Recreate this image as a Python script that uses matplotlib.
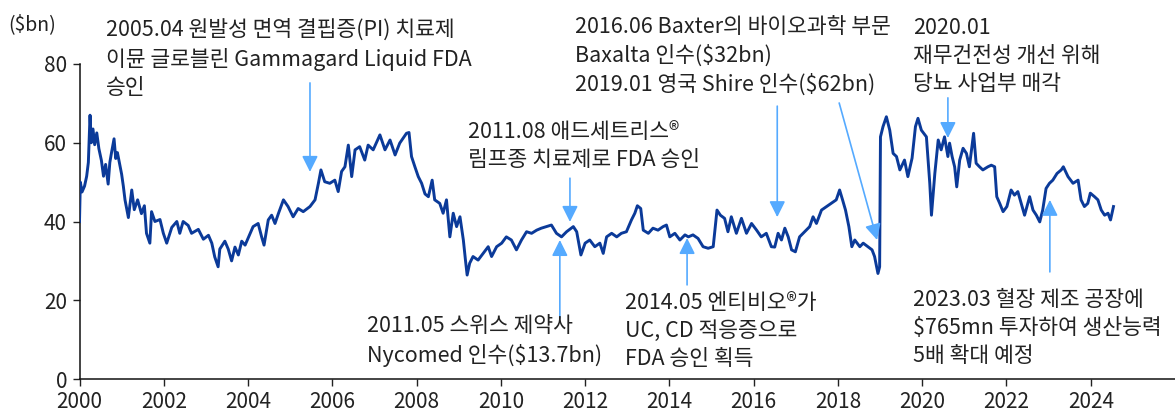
import matplotlib.pyplot as plt

plt.rcParams['font.family'] = ['Noto Sans CJK KR', 'DejaVu Sans']

# market cap ($bn)
years = [
    2000.00, 2000.02, 2000.06, 2000.12, 2000.17, 2000.21, 2000.25, 2000.28, 2000.32, 2000.36,
    2000.41, 2000.46, 2000.52, 2000.57, 2000.62, 2000.68, 2000.72, 2000.76, 2000.82, 2000.86,
    2000.90, 2001.00, 2001.04, 2001.08, 2001.16, 2001.24, 2001.30, 2001.38, 2001.47, 2001.54,
    2001.59, 2001.67, 2001.71, 2001.79, 2001.91, 2001.99, 2002.07, 2002.19, 2002.31, 2002.38,
    2002.46, 2002.58, 2002.66, 2002.82, 2002.94, 2003.06, 2003.14, 2003.21, 2003.29, 2003.33,
    2003.45, 2003.53, 2003.61, 2003.69, 2003.77, 2003.85, 2003.93, 2004.01, 2004.12, 2004.24,
    2004.32, 2004.38, 2004.48, 2004.56, 2004.64, 2004.72, 2004.84, 2004.95, 2005.07, 2005.19,
    2005.31, 2005.47, 2005.59, 2005.67, 2005.73, 2005.82, 2005.94, 2006.06, 2006.14, 2006.22,
    2006.30, 2006.38, 2006.46, 2006.54, 2006.65, 2006.77, 2006.85, 2006.97, 2007.13, 2007.25,
    2007.37, 2007.49, 2007.60, 2007.76, 2007.82, 2007.88, 2007.96, 2008.04, 2008.12, 2008.20,
    2008.28, 2008.37, 2008.43, 2008.55, 2008.63, 2008.71, 2008.79, 2008.87, 2008.95, 2009.03,
    2009.11, 2009.16, 2009.20, 2009.26, 2009.34, 2009.46, 2009.58, 2009.70, 2009.78, 2009.90,
    2010.02, 2010.13, 2010.25, 2010.37, 2010.49, 2010.61, 2010.73, 2010.85, 2010.96, 2011.08,
    2011.20, 2011.32, 2011.44, 2011.56, 2011.72, 2011.80, 2011.90, 2012.00, 2012.11, 2012.23,
    2012.35, 2012.43, 2012.51, 2012.63, 2012.75, 2012.86, 2012.98, 2013.10, 2013.18, 2013.24,
    2013.32, 2013.38, 2013.50, 2013.61, 2013.73, 2013.85, 2013.93, 2014.01, 2014.13, 2014.25,
    2014.37, 2014.45, 2014.56, 2014.68, 2014.80, 2014.92, 2015.04, 2015.13, 2015.21, 2015.31,
    2015.39, 2015.47, 2015.59, 2015.71, 2015.83, 2015.95, 2016.07, 2016.18, 2016.30, 2016.42,
    2016.50, 2016.58, 2016.66, 2016.74, 2016.82, 2016.90, 2016.99, 2017.09, 2017.21, 2017.33,
    2017.41, 2017.49, 2017.61, 2017.73, 2017.84, 2017.96, 2018.04, 2018.11, 2018.18, 2018.26,
    2018.33, 2018.40, 2018.52, 2018.60, 2018.71, 2018.81, 2018.87, 2018.95, 2018.99, 2019.01,
    2019.07, 2019.15, 2019.23, 2019.31, 2019.39, 2019.47, 2019.58, 2019.66, 2019.76, 2019.84,
    2019.90, 2019.98, 2020.10, 2020.18, 2020.22, 2020.30, 2020.38, 2020.45, 2020.53, 2020.61,
    2020.65, 2020.71, 2020.77, 2020.82, 2020.89, 2020.97, 2021.05, 2021.12, 2021.16, 2021.22,
    2021.28, 2021.36, 2021.44, 2021.56, 2021.64, 2021.72, 2021.77, 2021.84, 2021.92, 2022.01,
    2022.11, 2022.19, 2022.27, 2022.35, 2022.43, 2022.55, 2022.63, 2022.71, 2022.79, 2022.86,
    2022.94, 2023.02, 2023.10, 2023.20, 2023.30, 2023.35, 2023.46, 2023.58, 2023.70, 2023.77,
    2023.85, 2023.93, 2023.99, 2024.09, 2024.17, 2024.25, 2024.33, 2024.41, 2024.47, 2024.54,
]
cap = [
    40.0, 50.0, 47.5, 49.0, 51.5, 55.0, 67.0, 60.0, 63.5, 59.5,
    62.5, 58.5, 55.5, 51.5, 54.5, 49.5, 55.0, 57.5, 61.0, 56.0,
    57.5, 52.0, 49.0, 45.5, 41.0, 48.0, 43.0, 45.5, 42.0, 44.0,
    37.0, 34.5, 42.5, 40.0, 40.5, 37.0, 34.5, 38.5, 40.0, 37.0,
    40.0, 39.0, 37.0, 38.0, 35.5, 36.5, 34.5, 31.0, 28.5, 33.0,
    35.0, 33.0, 30.0, 33.5, 31.5, 35.0, 34.0, 36.0, 38.7, 39.5,
    36.2, 34.0, 40.4, 41.6, 39.5, 42.0, 45.5, 43.8, 41.2, 43.3,
    42.5, 43.8, 45.5, 49.7, 53.1, 50.1, 49.7, 50.5, 47.6, 52.7,
    53.9, 59.4, 51.4, 58.2, 59.0, 55.6, 59.4, 58.2, 62.0, 58.2,
    60.7, 56.9, 59.9, 62.4, 62.6, 56.5, 53.9, 51.4, 49.7, 47.0,
    46.3, 50.5, 45.5, 44.6, 42.1, 45.5, 36.1, 42.1, 38.7, 41.2,
    35.3, 30.2, 26.4, 29.4, 31.1, 30.2, 31.9, 33.6, 31.1, 33.6,
    34.5, 36.1, 35.3, 32.8, 35.3, 37.4, 37.0, 37.8, 38.3, 38.7,
    39.1, 37.0, 36.1, 37.4, 38.7, 37.4, 31.5, 34.5, 35.3, 33.6,
    34.5, 31.9, 36.1, 37.0, 36.1, 37.0, 37.4, 40.4, 42.1, 44.0,
    43.3, 37.8, 37.0, 38.3, 37.8, 38.7, 39.1, 36.1, 37.0, 35.3,
    36.6, 36.1, 36.6, 35.7, 33.6, 33.2, 33.6, 42.9, 41.6, 40.8,
    37.4, 41.2, 37.0, 40.8, 37.0, 39.5, 37.8, 36.1, 37.0, 33.6,
    33.5, 37.0, 35.3, 38.3, 36.1, 32.8, 32.3, 36.1, 37.4, 38.7,
    41.2, 39.5, 42.9, 43.8, 44.6, 45.5, 48.0, 45.5, 42.9, 38.7,
    33.6, 35.3, 33.6, 34.5, 33.6, 32.8, 31.1, 26.8, 28.5, 61.5,
    64.1, 66.6, 63.2, 57.3, 56.5, 53.1, 55.6, 51.4, 56.1, 64.1,
    66.2, 63.2, 61.5, 49.7, 41.6, 52.2, 60.7, 58.2, 61.5, 56.5,
    59.9, 56.5, 53.9, 48.8, 55.6, 58.6, 57.3, 53.9, 57.3, 62.4,
    54.8, 53.9, 53.1, 53.9, 54.3, 53.9, 46.3, 44.6, 42.5, 43.8,
    48.0, 46.7, 47.6, 44.6, 41.6, 46.3, 42.9, 41.6, 39.9, 42.9,
    48.4, 49.7, 50.5, 52.2, 53.1, 53.9, 51.4, 49.7, 50.5, 45.5,
    43.8, 44.6, 47.2, 46.3, 45.5, 42.9, 41.6, 42.1, 40.4, 43.8,
]

xticks = list(range(2000, 2025, 2))
yticks = [0, 20, 40, 60, 80]

# annotation text, text anchor (fig px: left, block centre)
notes = [
    ('2005.04 원발성 면역 결핍증(PI) 치료제\n이뮨 글로블린 Gammagard Liquid FDA\n승인', (106, 59)),
    ('2011.08 애드세트리스®\n림프종 치료제로 FDA 승인', (468, 146)),
    ('2016.06 Baxter의 바이오과학 부문\nBaxalta 인수($32bn)\n2019.01 영국 Shire 인수($62bn)', (575, 56)),
    ('2020.01\n재무건전성 개선 위해\n당뇨 사업부 매각', (913, 56)),
    ('2011.05 스위스 제약사\nNycomed 인수($13.7bn)', (367, 341)),
    ('2014.05 엔티비오®가\nUC, CD 적응증으로\nFDA 승인 획득', (625, 331)),
    ('2023.03 혈장 제조 공장에\n$765mn 투자하여 생산능력\n5배 확대 예정', (913, 328)),
]
# arrows (tail, head) in data units
arrows = [
    ((2005.47, 75.2), (2005.47, 52.6)),
    ((2011.64, 51.0), (2011.64, 39.9)),
    ((2016.56, 69.3), (2016.56, 41.1)),
    ((2018.03, 70.1), (2018.93, 35.3)),
    ((2020.61, 71.4), (2020.61, 61.2)),
    ((2011.40, 15.5), (2011.40, 35.3)),
    ((2014.42, 23.9), (2014.42, 35.8)),
    ((2023.03, 27.2), (2023.03, 45.5)),
]

W, H = 1175, 418
fig = plt.figure(figsize=(W / 100, H / 100), dpi=100)
ax = fig.add_axes([79.5 / W, 1 - 379 / H, (1175 - 79.5) / W, (379 - 64) / H])

ax.plot(years, cap, color='#0b3a99', lw=2.1, zorder=3)

ax.set_xlim(2000, 2026)
ax.set_ylim(0, 80)
ax.set_xticks(xticks)
ax.set_yticks(yticks)
ax.tick_params(labelsize=15, colors='#222222', length=5, width=1, pad=4)
for lab in ax.get_xticklabels() + ax.get_yticklabels():
    lab.set_fontweight('light')
for s in ['top', 'right']:
    ax.spines[s].set_visible(False)
for s in ['left', 'bottom']:
    ax.spines[s].set_color('#111111')
    ax.spines[s].set_linewidth(1.1)

for tail, head in arrows:
    ax.annotate('', xy=head, xytext=tail,
                arrowprops=dict(arrowstyle='-|>', color='#55aaff', lw=1.2,
                                mutation_scale=24, shrinkA=0, shrinkB=0),
                zorder=4, annotation_clip=False)

for txt, (px, py) in notes:
    fig.text(px / W, 1 - py / H, txt, ha='left', va='center', fontsize=15.5,
             fontweight='light', color='#222222', linespacing=1.38)

fig.text(8 / W, 1 - 25 / H, '($bn)', ha='left', va='center', fontsize=14,
         fontweight='light', color='#222222')

fig.savefig('out.png', dpi=100)
